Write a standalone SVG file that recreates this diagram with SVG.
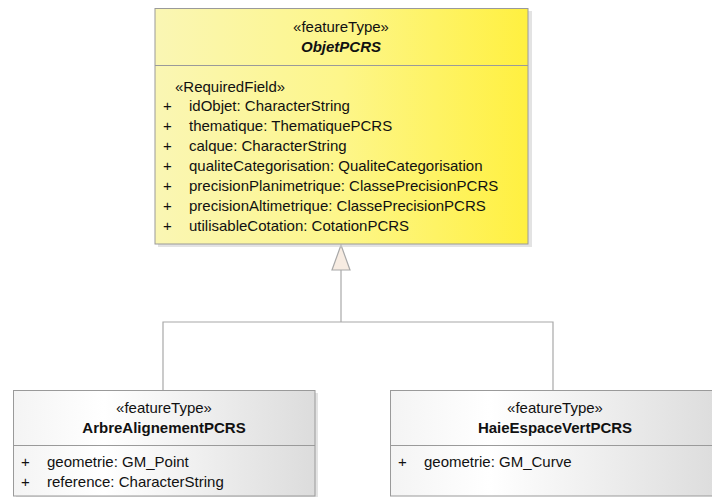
<svg xmlns="http://www.w3.org/2000/svg" width="712" height="497" viewBox="0 0 712 497">
<defs>
<linearGradient id="yel" x1="0" y1="0" x2="1" y2="0">
<stop offset="0" stop-color="#FAF6B4"/>
<stop offset="0.5" stop-color="#FDF68A"/>
<stop offset="1" stop-color="#FFF040"/>
</linearGradient>
<linearGradient id="gry" x1="0" y1="0" x2="1" y2="0">
<stop offset="0" stop-color="#F4F4F4"/>
<stop offset="0.3" stop-color="#FFFFFF"/>
<stop offset="1" stop-color="#DCDCDC"/>
</linearGradient>
<style>
text{font-family:"Liberation Sans",Arial,sans-serif;font-size:15px;fill:#111}
.c{text-anchor:middle}
.b{font-weight:bold}
.bi{font-weight:bold;font-style:italic}
.box{stroke:#9A9A9A;stroke-width:1}
.sh{fill:#D0D0D0;opacity:0.6}
.div{stroke:#9A9A9A;stroke-width:1}
.con{stroke:#A8A8A8;stroke-width:1.2;fill:none}
</style>
</defs>
<rect width="712" height="497" fill="#FFFFFF"/>

<g id="connectors">
<polyline class="con" points="163,390 163,322 553,322 553,390"/>
<line class="con" x1="341" y1="322" x2="341" y2="270"/>
<polygon points="341,245 332,270 350,270" fill="#F7ECE2" stroke="#A8A8A8" stroke-width="1.2"/>
</g>

<g id="ObjetPCRS">
<rect class="sh" x="158" y="11" width="374" height="236"/>
<rect class="box" x="155" y="8.5" width="373" height="235.5" fill="url(#yel)"/>
<line class="div" x1="155" y1="65.5" x2="528" y2="65.5"/>
<text class="c" x="341" y="32">«featureType»</text>
<text class="c bi" x="341" y="52">ObjetPCRS</text>
<text x="175" y="92">«RequiredField»</text>
<text x="163" y="111">+</text><text x="189" y="111">idObjet: CharacterString</text>
<text x="163" y="131">+</text><text x="189" y="131">thematique: ThematiquePCRS</text>
<text x="163" y="151">+</text><text x="189" y="151">calque: CharacterString</text>
<text x="163" y="171">+</text><text x="189" y="171">qualiteCategorisation: QualiteCategorisation</text>
<text x="163" y="191">+</text><text x="189" y="191">precisionPlanimetrique: ClassePrecisionPCRS</text>
<text x="163" y="211">+</text><text x="189" y="211">precisionAltimetrique: ClassePrecisionPCRS</text>
<text x="163" y="231">+</text><text x="189" y="231">utilisableCotation: CotationPCRS</text>
</g>

<g id="ArbreAlignementPCRS">
<rect class="sh" x="16" y="393" width="302" height="104"/>
<rect class="box" x="13.5" y="390.5" width="301.5" height="105.5" fill="url(#gry)"/>
<line class="div" x1="13.5" y1="445.5" x2="315" y2="445.5"/>
<text class="c" x="164" y="413">«featureType»</text>
<text class="c b" x="164" y="433">ArbreAlignementPCRS</text>
<text x="21" y="467">+</text><text x="47" y="467">geometrie: GM_Point</text>
<text x="21" y="487">+</text><text x="47" y="487">reference: CharacterString</text>
</g>

<g id="HaieEspaceVertPCRS">
<rect class="box" x="390.5" y="390.5" width="330" height="105.5" fill="url(#gry)"/>
<line class="div" x1="390.5" y1="445.5" x2="720" y2="445.5"/>
<text class="c" x="555" y="413">«featureType»</text>
<text class="c b" x="555" y="433">HaieEspaceVertPCRS</text>
<text x="398" y="467">+</text><text x="424" y="467">geometrie: GM_Curve</text>
</g>
</svg>
